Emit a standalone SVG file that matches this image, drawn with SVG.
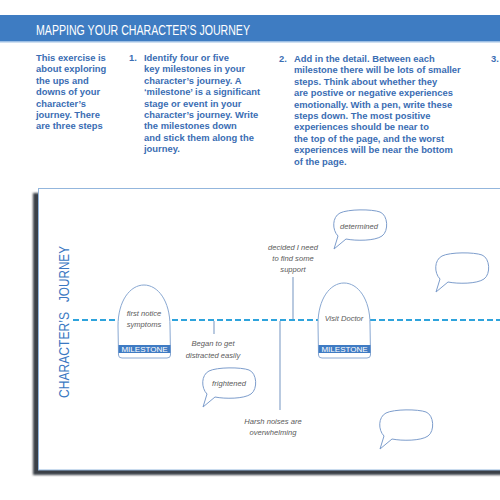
<svg xmlns="http://www.w3.org/2000/svg" width="500" height="500" viewBox="0 0 500 500">
  <style>
    .title { font-family: "Liberation Sans", Arial, sans-serif; font-size: 15.5px; fill: #ffffff; }
    .body { font-family: "Liberation Sans", Arial, sans-serif; font-weight: bold; font-size: 9.4px; fill: #3a6db3; }
    .axis { font-family: "Liberation Sans", Arial, sans-serif; font-size: 15px; fill: #3a78c2; }
    .hand { font-family: "Liberation Sans", "DejaVu Sans", sans-serif; font-style: italic; font-size: 7.6px; fill: #5a5a5a; text-anchor: middle; }
    .dome { fill: #ffffff; stroke: #89a8d2; stroke-width: 1; }
    .band { fill: #3f7bc3; }
    .band-label { font-family: "Liberation Sans", Arial, sans-serif; font-size: 8px; fill: #ffffff; text-anchor: middle; }
    .stem { stroke: #8aa6cc; stroke-width: 1.2; fill: none; }
    .bubble { fill: #ffffff; stroke: #7d9dcc; stroke-width: 1; }
    .timeline { stroke: #2ea3dc; stroke-width: 2; stroke-dasharray: 6 3; fill: none; }
  </style>
  <defs>
    <path id="bubble-shape" class="bubble" d="M6,26 C0,20 0,7 8,3 C16,-1 40,-1 48,2 C56,5 57,21 50,26 C43,31 24,31 14,29 L2,39 Z"/>
    <filter id="soft" x="-10%" y="-10%" width="120%" height="120%">
      <feGaussianBlur stdDeviation="1"/>
    </filter>
  </defs>

  <rect x="0" y="0" width="500" height="500" fill="#ffffff"/>

  <!-- header band -->
  <g id="header">
    <rect x="0" y="15" width="500" height="27" fill="#3e7cc2"/>
    <rect x="0" y="41" width="500" height="1.5" fill="#9dbfe4"/>
    <text class="title" x="36" y="34.5" textLength="214" lengthAdjust="spacingAndGlyphs">MAPPING YOUR CHARACTER’S JOURNEY</text>
  </g>

  <!-- instructions -->
  <g id="intro">
    <text class="body" x="36" y="61">This exercise is</text>
    <text class="body" x="36" y="72.4">about exploring</text>
    <text class="body" x="36" y="83.8">the ups and</text>
    <text class="body" x="36" y="95.2">downs of your</text>
    <text class="body" x="36" y="106.6">character’s</text>
    <text class="body" x="36" y="118">journey. There</text>
    <text class="body" x="36" y="129.4">are three steps</text>
  </g>
  <g id="step-1">
    <text class="body" x="129" y="61">1.</text>
    <text class="body" x="144" y="61">Identify four or five</text>
    <text class="body" x="144" y="72.4">key milestones in your</text>
    <text class="body" x="144" y="83.8">character’s journey. A</text>
    <text class="body" x="144" y="95.2">‘milestone’ is a significant</text>
    <text class="body" x="144" y="106.6">stage or event in your</text>
    <text class="body" x="144" y="118">character’s journey. Write</text>
    <text class="body" x="144" y="129.4">the milestones down</text>
    <text class="body" x="144" y="140.8">and stick them along the</text>
    <text class="body" x="144" y="152.2">journey.</text>
  </g>
  <g id="step-2">
    <text class="body" x="279" y="62">2.</text>
    <text class="body" x="294" y="62">Add in the detail. Between each</text>
    <text class="body" x="294" y="73.4">milestone there will be lots of smaller</text>
    <text class="body" x="294" y="84.8">steps. Think about whether they</text>
    <text class="body" x="294" y="96.2">are  postive or negative experiences</text>
    <text class="body" x="294" y="107.6">emotionally. With a pen, write these</text>
    <text class="body" x="294" y="119">steps down. The most positive</text>
    <text class="body" x="294" y="130.4">experiences should be near to</text>
    <text class="body" x="294" y="141.8">the top of the page, and the worst</text>
    <text class="body" x="294" y="153.2">experiences will be near the bottom</text>
    <text class="body" x="294" y="164.6">of the page.</text>
  </g>
  <g id="step-3">
    <text class="body" x="491" y="62">3.</text>
  </g>

  <!-- journey sheet -->
  <g id="sheet">
    <rect x="33" y="193" width="480" height="282" fill="#3b3f47" filter="url(#soft)"/>
    <rect x="38.5" y="188.5" width="470" height="281.5" fill="#ffffff" stroke="#93b6dd" stroke-width="1"/>
    <g transform="translate(69,0) rotate(-90)">
      <text class="axis" x="-398" y="0" textLength="86" lengthAdjust="spacingAndGlyphs">CHARACTER’S</text>
      <text class="axis" x="-302" y="0" textLength="56" lengthAdjust="spacingAndGlyphs">JOURNEY</text>
    </g>
  </g>

  <!-- timeline and stems -->
  <g id="connectors">
    <line class="timeline" x1="73" y1="320" x2="500" y2="320"/>
    <line class="stem" x1="214" y1="321" x2="214" y2="334"/>
    <line class="stem" x1="280" y1="321" x2="280" y2="410"/>
    <line class="stem" x1="293" y1="277" x2="293" y2="319"/>
  </g>

  <!-- milestones -->
  <g id="milestone-first-symptoms">
    <path class="dome" d="M118.5,355 L118,326 C118,301 130,285 144,285 C158,285 170,301 170,326 L170.5,355 Q170.5,358 167,358 L122,358 Q118.5,358 118.5,355 Z"/>
    <rect class="band" x="118.5" y="345" width="52" height="8"/>
    <text class="band-label" x="144.5" y="352.2">MILESTONE</text>
    <text class="hand" x="144" y="316">first notice</text>
    <text class="hand" x="144" y="327">symptoms</text>
  </g>
  <g id="milestone-visit-doctor">
    <path class="dome" d="M318.5,355 L318,324 C318,299 330,283 344,283 C358,283 370,299 370,324 L370.5,355 Q370.5,358 367,358 L322,358 Q318.5,358 318.5,355 Z"/>
    <rect class="band" x="318.5" y="345" width="52" height="8"/>
    <text class="band-label" x="344.5" y="352.2">MILESTONE</text>
    <text class="hand" x="344" y="321">Visit Doctor</text>
  </g>

  <!-- steps between milestones -->
  <g id="step-distracted">
    <text class="hand" x="213" y="345.5">Began to get</text>
    <text class="hand" x="213" y="357.5">distracted easily</text>
  </g>
  <g id="step-support">
    <text class="hand" x="293" y="250">decided I need</text>
    <text class="hand" x="293" y="261">to find some</text>
    <text class="hand" x="293" y="272">support</text>
  </g>
  <g id="step-noises">
    <text class="hand" x="273" y="423.5">Harsh noises are</text>
    <text class="hand" x="273" y="434.5">overwhelming</text>
  </g>

  <!-- feelings -->
  <g id="bubble-determined">
    <use href="#bubble-shape" transform="translate(332,210)"/>
    <text class="hand" x="359" y="228.5">determined</text>
  </g>
  <g id="bubble-right">
    <use href="#bubble-shape" transform="translate(434,253)"/>
  </g>
  <g id="bubble-frightened">
    <use href="#bubble-shape" transform="translate(201,368)"/>
    <text class="hand" x="229" y="385.5">frightened</text>
  </g>
  <g id="bubble-bottom">
    <use href="#bubble-shape" transform="translate(378,410)"/>
  </g>
</svg>
